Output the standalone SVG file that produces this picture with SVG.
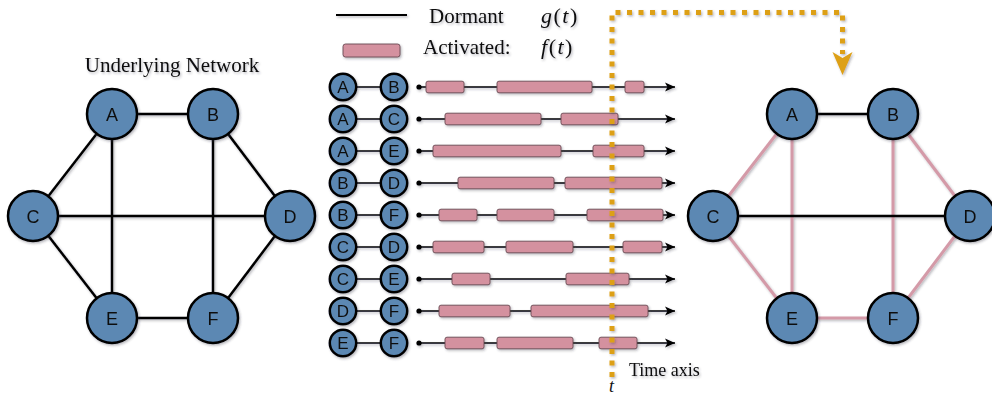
<svg xmlns="http://www.w3.org/2000/svg" width="992" height="398" viewBox="0 0 992 398">
<defs>
<filter id="sh" x="-20%" y="-20%" width="140%" height="140%">
<feDropShadow dx="1.2" dy="1.5" stdDeviation="1" flood-color="#303040" flood-opacity="0.35"/>
</filter>
<marker id="arr" markerWidth="12" markerHeight="12" refX="10" refY="5" orient="auto" markerUnits="userSpaceOnUse">
<path d="M0,0.5 L10,5 L0,9.5 L2.5,5 z" fill="#000"/>
</marker>
</defs>
<style>
.serif{font-family:"Liberation Serif","Times New Roman",serif;fill:#111;}
.nodeC{fill:#5b88b3;stroke:#000;stroke-width:2.5;}
.nl{font-family:"Liberation Sans",Arial,sans-serif;font-size:18px;fill:#111;text-anchor:middle;}
.sl{font-family:"Liberation Sans",Arial,sans-serif;font-size:17px;fill:#111;text-anchor:middle;}
.edge{stroke:#000;stroke-width:2.5;fill:none;}
.pedge{stroke:#d49aa8;stroke-width:3;fill:none;}
.tl{stroke:#000;stroke-width:1.6;fill:none;}
.bar{fill:#d4919f;stroke:#6a4a52;stroke-width:0.9;}
.orange{stroke:#dda015;stroke-width:5;stroke-dasharray:5 6.5;fill:none;}
</style>

<!-- Left network -->
<text class="serif" x="172" y="72" font-size="21" text-anchor="middle" filter="url(#sh)">Underlying Network</text>
<g id="left-edges" filter="url(#sh)">
<line class="edge" x1="112" y1="114" x2="213" y2="114"/>
<line class="edge" x1="112" y1="114" x2="33" y2="216"/>
<line class="edge" x1="112" y1="114" x2="112" y2="318"/>
<line class="edge" x1="213" y1="114" x2="290" y2="216"/>
<line class="edge" x1="213" y1="114" x2="213" y2="318"/>
<line class="edge" x1="33" y1="216" x2="290" y2="216"/>
<line class="edge" x1="33" y1="216" x2="112" y2="318"/>
<line class="edge" x1="290" y1="216" x2="213" y2="318"/>
<line class="edge" x1="112" y1="318" x2="213" y2="318"/>
</g>
<g id="L-A" filter="url(#sh)"><circle class="nodeC" cx="112" cy="114" r="25"/><text class="nl" x="112" y="120.5">A</text></g>
<g id="L-B" filter="url(#sh)"><circle class="nodeC" cx="213" cy="114" r="25"/><text class="nl" x="213" y="120.5">B</text></g>
<g id="L-C" filter="url(#sh)"><circle class="nodeC" cx="33" cy="216" r="25"/><text class="nl" x="33" y="222.5">C</text></g>
<g id="L-D" filter="url(#sh)"><circle class="nodeC" cx="290" cy="216" r="25"/><text class="nl" x="290" y="222.5">D</text></g>
<g id="L-E" filter="url(#sh)"><circle class="nodeC" cx="112" cy="318" r="25"/><text class="nl" x="112" y="324.5">E</text></g>
<g id="L-F" filter="url(#sh)"><circle class="nodeC" cx="213" cy="318" r="25"/><text class="nl" x="213" y="324.5">F</text></g>

<!-- Legend -->
<g id="legend" filter="url(#sh)">
<line x1="336" y1="15" x2="407" y2="15" stroke="#000" stroke-width="2"/>
<rect class="bar" x="343" y="44" width="57" height="13" rx="2.5"/>
<text class="serif" x="429" y="23" font-size="21">Dormant</text>
<text class="serif" x="423" y="54" font-size="21">Activated:</text>
<text class="serif" x="541" y="23" font-size="22" letter-spacing="1.5"><tspan font-style="italic">g</tspan>(<tspan font-style="italic">t</tspan>)</text>
<text class="serif" x="541" y="54" font-size="22" letter-spacing="1.5"><tspan font-style="italic">f</tspan>(<tspan font-style="italic">t</tspan>)</text>
</g>

<!-- Timelines -->
<g id="timelines" filter="url(#sh)">
<g id="row-AB">
<line class="tl" x1="419" y1="87" x2="675" y2="87" marker-end="url(#arr)"/><circle cx="419" cy="87" r="2.6"/>
<rect class="bar" x="426" y="81.2" width="38" height="11.6" rx="2"/>
<rect class="bar" x="497" y="81.2" width="95" height="11.6" rx="2"/>
<rect class="bar" x="625" y="81.2" width="19" height="11.6" rx="2"/>
<line class="tl" x1="343" y1="87" x2="394" y2="87"/>
<circle class="nodeC" cx="343" cy="87" r="13.2"/><text class="sl" x="343" y="93">A</text>
<circle class="nodeC" cx="394" cy="87" r="13.2"/><text class="sl" x="394" y="93">B</text>
</g>
<g id="row-AC">
<line class="tl" x1="419" y1="119" x2="675" y2="119" marker-end="url(#arr)"/><circle cx="419" cy="119" r="2.6"/>
<rect class="bar" x="445" y="113.2" width="96" height="11.6" rx="2"/>
<rect class="bar" x="561" y="113.2" width="57" height="11.6" rx="2"/>
<line class="tl" x1="343" y1="119" x2="394" y2="119"/>
<circle class="nodeC" cx="343" cy="119" r="13.2"/><text class="sl" x="343" y="125">A</text>
<circle class="nodeC" cx="394" cy="119" r="13.2"/><text class="sl" x="394" y="125">C</text>
</g>
<g id="row-AE">
<line class="tl" x1="419" y1="151" x2="675" y2="151" marker-end="url(#arr)"/><circle cx="419" cy="151" r="2.6"/>
<rect class="bar" x="433" y="145.2" width="128" height="11.6" rx="2"/>
<rect class="bar" x="593" y="145.2" width="51" height="11.6" rx="2"/>
<line class="tl" x1="343" y1="151" x2="394" y2="151"/>
<circle class="nodeC" cx="343" cy="151" r="13.2"/><text class="sl" x="343" y="157">A</text>
<circle class="nodeC" cx="394" cy="151" r="13.2"/><text class="sl" x="394" y="157">E</text>
</g>
<g id="row-BD">
<line class="tl" x1="419" y1="183" x2="675" y2="183" marker-end="url(#arr)"/><circle cx="419" cy="183" r="2.6"/>
<rect class="bar" x="458" y="177.2" width="96" height="11.6" rx="2"/>
<rect class="bar" x="565" y="177.2" width="97" height="11.6" rx="2"/>
<line class="tl" x1="343" y1="183" x2="394" y2="183"/>
<circle class="nodeC" cx="343" cy="183" r="13.2"/><text class="sl" x="343" y="189">B</text>
<circle class="nodeC" cx="394" cy="183" r="13.2"/><text class="sl" x="394" y="189">D</text>
</g>
<g id="row-BF">
<line class="tl" x1="419" y1="215" x2="675" y2="215" marker-end="url(#arr)"/><circle cx="419" cy="215" r="2.6"/>
<rect class="bar" x="439" y="209.2" width="38" height="11.6" rx="2"/>
<rect class="bar" x="497" y="209.2" width="57" height="11.6" rx="2"/>
<rect class="bar" x="587" y="209.2" width="76" height="11.6" rx="2"/>
<line class="tl" x1="343" y1="215" x2="394" y2="215"/>
<circle class="nodeC" cx="343" cy="215" r="13.2"/><text class="sl" x="343" y="221">B</text>
<circle class="nodeC" cx="394" cy="215" r="13.2"/><text class="sl" x="394" y="221">F</text>
</g>
<g id="row-CD">
<line class="tl" x1="419" y1="247" x2="675" y2="247" marker-end="url(#arr)"/><circle cx="419" cy="247" r="2.6"/>
<rect class="bar" x="433" y="241.2" width="51" height="11.6" rx="2"/>
<rect class="bar" x="506" y="241.2" width="67" height="11.6" rx="2"/>
<rect class="bar" x="623" y="241.2" width="39" height="11.6" rx="2"/>
<line class="tl" x1="343" y1="247" x2="394" y2="247"/>
<circle class="nodeC" cx="343" cy="247" r="13.2"/><text class="sl" x="343" y="253">C</text>
<circle class="nodeC" cx="394" cy="247" r="13.2"/><text class="sl" x="394" y="253">D</text>
</g>
<g id="row-CE">
<line class="tl" x1="419" y1="279" x2="675" y2="279" marker-end="url(#arr)"/><circle cx="419" cy="279" r="2.6"/>
<rect class="bar" x="452" y="273.2" width="38" height="11.6" rx="2"/>
<rect class="bar" x="566" y="273.2" width="63" height="11.6" rx="2"/>
<line class="tl" x1="343" y1="279" x2="394" y2="279"/>
<circle class="nodeC" cx="343" cy="279" r="13.2"/><text class="sl" x="343" y="285">C</text>
<circle class="nodeC" cx="394" cy="279" r="13.2"/><text class="sl" x="394" y="285">E</text>
</g>
<g id="row-DF">
<line class="tl" x1="419" y1="311" x2="675" y2="311" marker-end="url(#arr)"/><circle cx="419" cy="311" r="2.6"/>
<rect class="bar" x="439" y="305.2" width="71" height="11.6" rx="2"/>
<rect class="bar" x="531" y="305.2" width="117" height="11.6" rx="2"/>
<line class="tl" x1="343" y1="311" x2="394" y2="311"/>
<circle class="nodeC" cx="343" cy="311" r="13.2"/><text class="sl" x="343" y="317">D</text>
<circle class="nodeC" cx="394" cy="311" r="13.2"/><text class="sl" x="394" y="317">F</text>
</g>
<g id="row-EF">
<line class="tl" x1="419" y1="343" x2="675" y2="343" marker-end="url(#arr)"/><circle cx="419" cy="343" r="2.6"/>
<rect class="bar" x="445" y="337.2" width="39" height="11.6" rx="2"/>
<rect class="bar" x="497" y="337.2" width="76" height="11.6" rx="2"/>
<rect class="bar" x="599" y="337.2" width="38" height="11.6" rx="2"/>
<line class="tl" x1="343" y1="343" x2="394" y2="343"/>
<circle class="nodeC" cx="343" cy="343" r="13.2"/><text class="sl" x="343" y="349">E</text>
<circle class="nodeC" cx="394" cy="343" r="13.2"/><text class="sl" x="394" y="349">F</text>
</g>
</g>

<!-- Time axis labels -->
<text class="serif" x="629" y="376" font-size="18" filter="url(#sh)">Time axis</text>
<text class="serif" x="609" y="392" font-size="18" font-style="italic">t</text>

<!-- Right network -->
<g id="right-edges" filter="url(#sh)">
<line class="pedge" x1="792" y1="114" x2="713" y2="216"/>
<line class="pedge" x1="792" y1="114" x2="792" y2="318"/>
<line class="pedge" x1="893" y1="114" x2="970" y2="216"/>
<line class="pedge" x1="893" y1="114" x2="893" y2="318"/>
<line class="pedge" x1="713" y1="216" x2="792" y2="318"/>
<line class="pedge" x1="970" y1="216" x2="893" y2="318"/>
<line class="pedge" x1="792" y1="318" x2="893" y2="318"/>
<line class="edge" x1="792" y1="114" x2="893" y2="114"/>
<line class="edge" x1="713" y1="216" x2="970" y2="216"/>
</g>
<g id="R-A" filter="url(#sh)"><circle class="nodeC" cx="792" cy="114" r="25"/><text class="nl" x="792" y="120.5">A</text></g>
<g id="R-B" filter="url(#sh)"><circle class="nodeC" cx="893" cy="114" r="25"/><text class="nl" x="893" y="120.5">B</text></g>
<g id="R-C" filter="url(#sh)"><circle class="nodeC" cx="713" cy="216" r="25"/><text class="nl" x="713" y="222.5">C</text></g>
<g id="R-D" filter="url(#sh)"><circle class="nodeC" cx="970" cy="216" r="25"/><text class="nl" x="970" y="222.5">D</text></g>
<g id="R-E" filter="url(#sh)"><circle class="nodeC" cx="792" cy="318" r="25"/><text class="nl" x="792" y="324.5">E</text></g>
<g id="R-F" filter="url(#sh)"><circle class="nodeC" cx="893" cy="318" r="25"/><text class="nl" x="893" y="324.5">F</text></g>

<!-- Orange time cursor connector -->
<g id="connectors" filter="url(#sh)">
<path class="orange" d="M612,377 V12.5 H842.5 V54"/>
<polygon points="832.5,52 842.5,58 852.5,52 842.5,75" fill="#dda015"/>
</g>
</svg>
